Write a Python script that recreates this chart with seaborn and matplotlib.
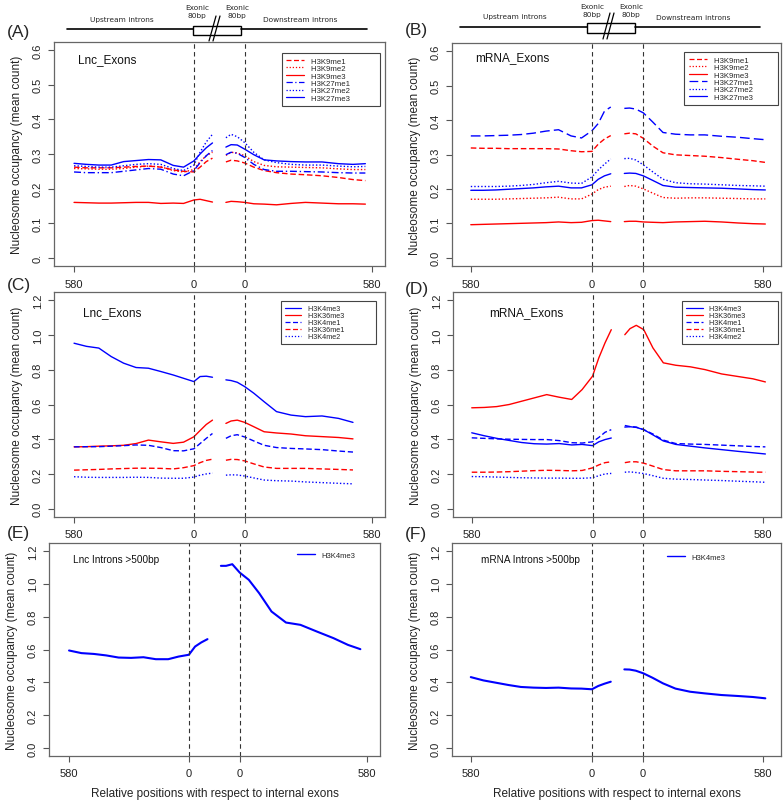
import numpy as np
import matplotlib
matplotlib.use("Agg")
import matplotlib.pyplot as plt
from matplotlib.lines import Line2D
import seaborn as sns

# positions along the meta-exon (upstream 580bp .. exon | gap | exon .. downstream 580bp)
pos_left = [0, 60, 120, 180, 240, 300, 360, 420, 480, 530, 580, 610, 640, 670]
pos_right = [735, 760, 790, 826, 870, 920, 980, 1050, 1120, 1200, 1280, 1350, 1410]
nan = float("nan")

# (A) Lnc_Exons, repressive marks
A_H3K9me1 = [0.262, 0.260, 0.260, 0.260, 0.262, 0.264, 0.265, 0.262, 0.254, 0.250, 0.248, 0.262, 0.278, 0.288,
             0.277, 0.282, 0.280, 0.274, 0.262, 0.252, 0.246, 0.242, 0.240, 0.237, 0.232, 0.226, 0.223]
A_H3K9me2 = [0.258, 0.257, 0.256, 0.256, 0.258, 0.262, 0.265, 0.263, 0.252, 0.248, 0.255, 0.278, 0.295, 0.305,
             0.296, 0.305, 0.303, 0.295, 0.278, 0.267, 0.263, 0.262, 0.261, 0.260, 0.257, 0.255, 0.255]
A_H3K9me3 = [0.160, 0.159, 0.158, 0.158, 0.159, 0.160, 0.160, 0.157, 0.158, 0.157, 0.167, 0.169, 0.165, 0.161,
             0.160, 0.163, 0.162, 0.160, 0.156, 0.155, 0.153, 0.157, 0.160, 0.158, 0.156, 0.156, 0.155]
A_H3K27me1 = [0.248, 0.246, 0.246, 0.246, 0.250, 0.254, 0.258, 0.256, 0.242, 0.237, 0.252, 0.275, 0.295, 0.310,
              0.298, 0.305, 0.302, 0.290, 0.270, 0.255, 0.250, 0.250, 0.249, 0.248, 0.246, 0.245, 0.245]
A_H3K27me2 = [0.266, 0.264, 0.262, 0.262, 0.266, 0.270, 0.272, 0.270, 0.258, 0.252, 0.268, 0.305, 0.335, 0.357,
              0.347, 0.357, 0.350, 0.333, 0.305, 0.283, 0.275, 0.270, 0.268, 0.268, 0.265, 0.263, 0.264]
A_H3K27me3 = [0.273, 0.270, 0.268, 0.268, 0.278, 0.281, 0.284, 0.283, 0.267, 0.262, 0.280, 0.300, 0.318, 0.332,
              0.320, 0.327, 0.326, 0.314, 0.298, 0.283, 0.280, 0.278, 0.277, 0.277, 0.272, 0.270, 0.272]

# (B) mRNA_Exons, repressive marks
B_H3K9me1 = [0.319, 0.318, 0.318, 0.317, 0.317, 0.317, 0.317, 0.316, 0.311, 0.308, 0.309, 0.330, 0.345, 0.355,
             0.360, 0.362, 0.360, 0.347, 0.325, 0.305, 0.299, 0.297, 0.295, 0.291, 0.286, 0.282, 0.277]
B_H3K9me2 = [0.170, 0.170, 0.170, 0.171, 0.172, 0.173, 0.174, 0.176, 0.171, 0.171, 0.185, 0.198, 0.205, 0.208,
             0.207, 0.210, 0.208, 0.200, 0.188, 0.175, 0.173, 0.174, 0.174, 0.173, 0.172, 0.171, 0.171]
B_H3K9me3 = [0.096, 0.097, 0.098, 0.099, 0.100, 0.101, 0.102, 0.104, 0.102, 0.103, 0.108, 0.109, 0.107, 0.105,
             0.105, 0.106, 0.106, 0.104, 0.103, 0.102, 0.104, 0.105, 0.106, 0.104, 0.101, 0.099, 0.098]
B_H3K27me1 = [0.354, 0.354, 0.355, 0.356, 0.358, 0.362, 0.368, 0.372, 0.354, 0.348, 0.369, 0.390, 0.426, 0.438,
              0.434, 0.435, 0.432, 0.421, 0.395, 0.364, 0.359, 0.357, 0.357, 0.353, 0.350, 0.346, 0.343]
B_H3K27me2 = [0.207, 0.207, 0.207, 0.208, 0.210, 0.213, 0.218, 0.222, 0.217, 0.216, 0.235, 0.255, 0.272, 0.287,
              0.288, 0.289, 0.284, 0.270, 0.250, 0.228, 0.218, 0.215, 0.214, 0.212, 0.210, 0.209, 0.208]
B_H3K27me3 = [0.196, 0.196, 0.197, 0.199, 0.201, 0.203, 0.206, 0.208, 0.203, 0.203, 0.212, 0.228, 0.238, 0.244,
              0.245, 0.246, 0.245, 0.238, 0.225, 0.210, 0.205, 0.204, 0.203, 0.202, 0.200, 0.198, 0.197]

# (C) Lnc_Exons, active marks
C_H3K4me3 = [0.953, 0.935, 0.925, 0.876, 0.838, 0.813, 0.809, 0.790, 0.770, 0.751, 0.732, 0.761, 0.763, 0.757,
             0.742, 0.738, 0.728, 0.703, 0.665, 0.616, 0.559, 0.539, 0.530, 0.534, 0.520, 0.497, nan]
C_H3K36me3 = [0.356, 0.357, 0.360, 0.362, 0.365, 0.375, 0.395, 0.385, 0.376, 0.383, 0.414, 0.450, 0.485, 0.510,
              0.491, 0.505, 0.510, 0.497, 0.472, 0.443, 0.436, 0.430, 0.420, 0.415, 0.410, 0.402, nan]
C_H3K4me1 = [0.356, 0.357, 0.357, 0.360, 0.363, 0.367, 0.365, 0.352, 0.334, 0.333, 0.345, 0.375, 0.405, 0.433,
             0.405, 0.420, 0.426, 0.413, 0.390, 0.365, 0.352, 0.347, 0.344, 0.340, 0.332, 0.326, nan]
C_H3K36me1 = [0.222, 0.224, 0.226, 0.229, 0.231, 0.233, 0.233, 0.232, 0.229, 0.236, 0.248, 0.265, 0.278, 0.285,
              0.279, 0.284, 0.283, 0.275, 0.258, 0.240, 0.232, 0.232, 0.232, 0.229, 0.226, 0.223, nan]
C_H3K4me2 = [0.184, 0.181, 0.180, 0.180, 0.180, 0.181, 0.180, 0.176, 0.175, 0.175, 0.182, 0.193, 0.200, 0.205,
             0.193, 0.195, 0.194, 0.188, 0.177, 0.165, 0.161, 0.159, 0.154, 0.150, 0.146, 0.143, nan]

# (D) mRNA_Exons, active marks
D_H3K4me3 = [0.437, 0.420, 0.405, 0.393, 0.381, 0.374, 0.372, 0.375, 0.367, 0.370, 0.363, 0.385, 0.398, 0.407,
             0.470, 0.472, 0.468, 0.455, 0.425, 0.390, 0.370, 0.360, 0.350, 0.340, 0.330, 0.322, 0.315]
D_H3K36me3 = [0.581, 0.583, 0.588, 0.600, 0.619, 0.638, 0.657, 0.642, 0.629, 0.686, 0.763, 0.868, 0.955, 1.031,
              1.002, 1.037, 1.056, 1.031, 0.926, 0.840, 0.826, 0.817, 0.801, 0.776, 0.761, 0.748, 0.730]
D_H3K4me1 = [0.408, 0.405, 0.402, 0.400, 0.399, 0.398, 0.398, 0.392, 0.380, 0.378, 0.385, 0.410, 0.440, 0.455,
             0.479, 0.473, 0.470, 0.455, 0.430, 0.395, 0.375, 0.372, 0.370, 0.366, 0.362, 0.358, 0.356]
D_H3K36me1 = [0.210, 0.210, 0.211, 0.213, 0.216, 0.219, 0.221, 0.220, 0.218, 0.220, 0.235, 0.252, 0.265, 0.270,
              0.265, 0.270, 0.270, 0.262, 0.245, 0.225, 0.218, 0.218, 0.218, 0.215, 0.213, 0.211, 0.210]
D_H3K4me2 = [0.185, 0.184, 0.182, 0.180, 0.178, 0.177, 0.176, 0.176, 0.175, 0.175, 0.178, 0.190, 0.200, 0.203,
             0.210, 0.212, 0.208, 0.202, 0.190, 0.175, 0.170, 0.168, 0.165, 0.162, 0.158, 0.155, 0.152]

# (E) Lnc introns >500bp and (F) mRNA introns >500bp
E_H3K4me3 = [0.594, 0.578, 0.573, 0.564, 0.551, 0.549, 0.553, 0.541, 0.541, 0.557, 0.568, 0.618, 0.643, 0.663,
             1.109, 1.109, 1.119, 1.068, 1.024, 0.943, 0.831, 0.764, 0.750, 0.709, 0.669, 0.628, 0.602]
F_H3K4me3 = [0.432, 0.412, 0.398, 0.384, 0.372, 0.368, 0.366, 0.368, 0.363, 0.362, 0.358, 0.378, 0.392, 0.404,
             0.479, 0.478, 0.471, 0.455, 0.428, 0.394, 0.362, 0.343, 0.333, 0.323, 0.317, 0.311, 0.303]

tick_labels_x = ["580", "0", "0", "580"]
W, H = 784, 804

DASH = (0, (4, 2))
DOT = (0, (1, 1.5))
DASHDOT = (0, (5, 2, 1, 2))
LONGDASH = (0, (7, 3))

sns.set_style("ticks")
plt.rcParams["font.family"] = ["Liberation Sans", "DejaVu Sans"]

fig = plt.figure(figsize=(W / 100, H / 100), dpi=100)


def px_axes(x0, y0, x1, y1):
    return fig.add_axes([x0 / W, 1 - y1 / H, (x1 - x0) / W, (y1 - y0) / H])


def draw_panel(ax, series, lw, xticks, xlim, ylim, yticks, ylabels, note, note_xy, note_size):
    n = len(pos_left)
    for name, vals, color, ls in series:
        vals = np.asarray(vals, dtype=float)
        for xs, ys in ((pos_left, vals[:n]), (pos_right, vals[n:])):
            sns.lineplot(x=xs, y=ys, ax=ax, color=color, linestyle=ls, linewidth=lw, legend=False)
    for xv in xticks[1:3]:
        ax.axvline(xv, color="#333333", ls=(0, (4, 3)), lw=0.8)
    ax.set_xlim(*xlim)
    ax.set_ylim(*ylim)
    ax.set_xticks(xticks)
    ax.set_xticklabels(tick_labels_x)
    ax.set_yticks(yticks)
    ax.set_yticklabels(ylabels, rotation=90, va="center")
    ax.tick_params(axis="both", length=4, width=0.8, color="#555555", labelsize=8, labelcolor="#222222")
    ax.tick_params(axis="x", pad=5)
    ax.tick_params(axis="y", pad=4)
    for sp in ax.spines.values():
        sp.set_color("#666666")
        sp.set_linewidth(0.9)
    ax.set_ylabel("Nucleosome occupancy (mean count)", fontsize=8.5, labelpad=7, color="#222222")
    ax.set_xlabel("")
    ax.text(note_xy[0], note_xy[1], note, transform=ax.transAxes, fontsize=note_size,
            ha="left", va="center", color="#111111")


def add_legend(ax, series, lw, anchor, size, pad_spaces=0, frame=True):
    handles = [Line2D([0], [0], color=c, ls=ls, lw=lw) for _, _, c, ls in series]
    names = [s[0] + " " * pad_spaces for s in series]
    leg = ax.legend(handles, names, loc="upper right" if frame else "center left",
                    bbox_to_anchor=anchor, fontsize=size, frameon=frame, fancybox=False,
                    edgecolor="#444444", framealpha=1, borderaxespad=0, handlelength=2.3,
                    handletextpad=0.9, labelspacing=0.0, borderpad=0.55 if frame else 0)
    if frame:
        leg.get_frame().set_linewidth(0.8)


lnc_ticks, lnc_xlim = [0, 580, 826, 1440], (-97, 1505)
mrna_ticks, mrna_xlim = [0, 580, 822, 1400], (-90, 1485)
y6 = np.round(np.arange(0, 0.61, 0.1), 1)
y12 = np.round(np.arange(0, 1.21, 0.2), 1)

A_series = [("H3K9me1", A_H3K9me1, "red", DASH), ("H3K9me2", A_H3K9me2, "red", DOT),
            ("H3K9me3", A_H3K9me3, "red", "-"), ("H3K27me1", A_H3K27me1, "blue", DASHDOT),
            ("H3K27me2", A_H3K27me2, "blue", DOT), ("H3K27me3", A_H3K27me3, "blue", "-")]
B_series = [("H3K9me1", B_H3K9me1, "red", DASH), ("H3K9me2", B_H3K9me2, "red", DOT),
            ("H3K9me3", B_H3K9me3, "red", "-"), ("H3K27me1", B_H3K27me1, "blue", LONGDASH),
            ("H3K27me2", B_H3K27me2, "blue", DOT), ("H3K27me3", B_H3K27me3, "blue", "-")]
C_series = [("H3K4me3", C_H3K4me3, "blue", "-"), ("H3K36me3", C_H3K36me3, "red", "-"),
            ("H3K4me1", C_H3K4me1, "blue", DASH), ("H3K36me1", C_H3K36me1, "red", DASH),
            ("H3K4me2", C_H3K4me2, "blue", DOT)]
D_series = [("H3K4me3", D_H3K4me3, "blue", "-"), ("H3K36me3", D_H3K36me3, "red", "-"),
            ("H3K4me1", D_H3K4me1, "blue", DASH), ("H3K36me1", D_H3K36me1, "red", DASH),
            ("H3K4me2", D_H3K4me2, "blue", DOT)]
E_series = [("H3K4me3", E_H3K4me3, "blue", "-")]
F_series = [("H3K4me3", F_H3K4me3, "blue", "-")]

axA = px_axes(54, 43, 385, 267)
draw_panel(axA, A_series, 1.0, lnc_ticks, lnc_xlim, (-0.024, 0.624), y6,
           ["0."] + [str(v) for v in y6[1:]], "Lnc_Exons", (0.073, 0.924), 8.5)
add_legend(axA, A_series, 0.9, (0.985, 0.951), 5.6, pad_spaces=12)

axB = px_axes(452, 44, 781, 267)
draw_panel(axB, B_series, 1.0, mrna_ticks, mrna_xlim, (-0.024, 0.624), y6,
           [str(v) for v in y6], "mRNA_Exons", (0.07, 0.937), 8.5)
add_legend(axB, B_series, 0.9, (0.991, 0.96), 5.6, pad_spaces=10)

axC = px_axes(54, 293, 385, 518)
draw_panel(axC, C_series, 1.0, lnc_ticks, lnc_xlim, (-0.048, 1.248), y12,
           [str(v) for v in y12], "Lnc_Exons", (0.088, 0.911), 8.5)
add_legend(axC, C_series, 0.9, (0.973, 0.96), 5.2, pad_spaces=14)

axD = px_axes(453, 293, 781, 518)
draw_panel(axD, D_series, 1.0, mrna_ticks, mrna_xlim, (-0.048, 1.248), y12,
           [str(v) for v in y12], "mRNA_Exons", (0.11, 0.911), 8.5)
add_legend(axD, D_series, 0.9, (0.99, 0.96), 5.2, pad_spaces=14)

axE = px_axes(49, 544, 380, 757)
draw_panel(axE, E_series, 1.5, lnc_ticks, lnc_xlim, (-0.048, 1.248), y12,
           [str(v) for v in y12], "Lnc Introns >500bp", (0.073, 0.925), 7.2)
add_legend(axE, E_series, 1.0, ((297 - 49) / 331, 1 - 12 / 213), 5.5, frame=False)
axE.set_xlabel("Relative positions with respect to internal exons", fontsize=8.5, labelpad=6, color="#222222")

axF = px_axes(452, 544, 781, 757)
draw_panel(axF, F_series, 1.5, mrna_ticks, mrna_xlim, (-0.048, 1.248), y12,
           [str(v) for v in y12], "mRNA Introns >500bp", (0.088, 0.925), 7.2)
add_legend(axF, F_series, 1.0, ((667 - 452) / 329, 1 - 14 / 213), 5.5, frame=False)
axF.set_xlabel("Relative positions with respect to internal exons", fontsize=8.5, labelpad=6, color="#222222")

# schematic of the meta-exon above panels A and B, panel letters
top = fig.add_axes([0, 0, 1, 1], zorder=10)
top.set_xlim(0, W)
top.set_ylim(H, 0)
top.axis("off")
top.patch.set_alpha(0)
for x0, x1, y, bx0, bx1, by0, by1, sx in [(67, 367, 30, 193, 241, 27, 36, 209),
                                          (460, 760, 28, 587, 635, 24, 34, 603)]:
    top.plot([x0, bx0], [y, y], color="black", lw=1.2)
    top.plot([bx1, x1], [y, y], color="black", lw=1.2)
    top.add_patch(plt.Rectangle((bx0, by0), bx1 - bx0, by1 - by0, fc="white", ec="black", lw=1.0))
    for d in (0, 4):
        top.plot([sx + d, sx + d + 7], [by1 + 6, by0 - 10], color="black", lw=0.9)
for x, y, s in [(122, 20, "Upstream introns"), (197, 12, "Exonic\n80bp"), (237, 12, "Exonic\n80bp"),
                (300, 20, "Downstream introns"), (515, 17, "Upstream introns"), (592, 11, "Exonic\n80bp"),
                (631, 11, "Exonic\n80bp"), (693, 18, "Downstream introns")]:
    top.text(x, y, s, fontsize=5.3, ha="center", va="center", family="DejaVu Sans", linespacing=1.3)
for x, y, s in [(7, 33, "(A)"), (405, 30, "(B)"), (7, 286, "(C)"), (405, 290, "(D)"),
                (7, 534, "(E)"), (405, 535, "(F)")]:
    top.text(x, y, s, fontsize=12.5, ha="left", va="center")

fig.savefig("out.png", dpi=100)
